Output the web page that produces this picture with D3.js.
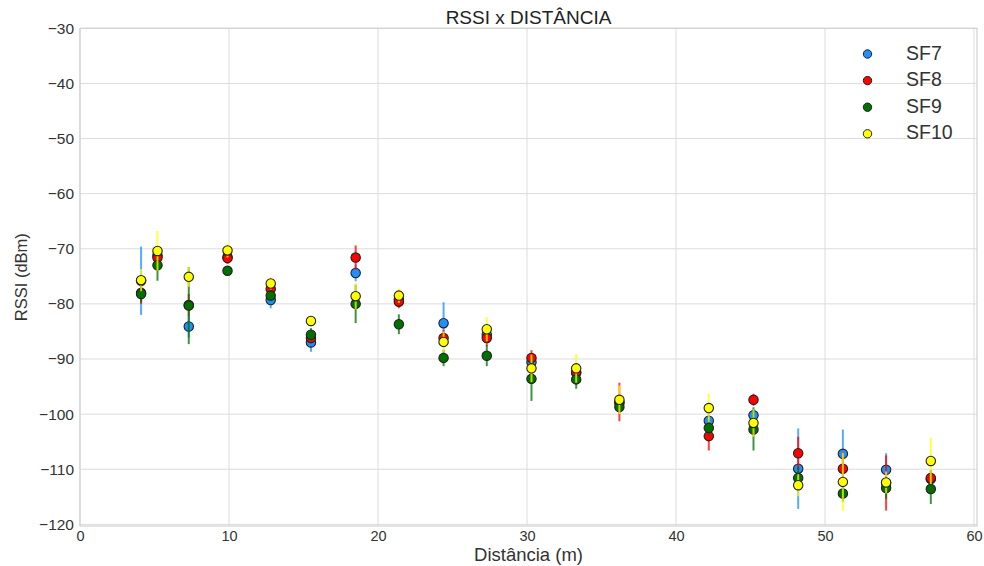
<!DOCTYPE html>
<html>
<head>
<meta charset="utf-8">
<script src="https://cdn.jsdelivr.net/npm/d3@7"></script>
<style>
  html, body { margin: 0; padding: 0; background: #fff; }
  svg { display: block; font-family: "Liberation Sans", Arial, sans-serif; }
</style>
</head>
<body>
<svg id="chart" width="984" height="566"></svg>
<script>
// Distance of each measurement point (m)
const distances = [4.1, 5.2, 7.3, 9.9, 12.8, 15.5, 18.5, 21.4, 24.4, 27.3, 30.3, 33.3, 36.2, 42.2, 45.2, 48.2, 51.2, 54.1, 57.1];

// Mean RSSI (dBm) and spread per spreading factor
const sf7    = [-75.8, -71.2, -84.1, -71.5, -79.3, -87.0, -74.4, -79.2, -83.5, -85.6, -90.6, -92.5, -98.0, -101.2, -100.2, -109.9, -107.2, -110.1, -111.8];
const sf7Err = [6.2, 1.5, 2.0, 1.0, 1.5, 1.7, 1.5, 1.0, 3.8, 1.5, 1.5, 1.5, 1.0, 1.5, 1.5, 7.3, 4.4, 3.0, 1.5];

const sf8    = [-78.0, -71.6, -80.2, -71.7, -77.3, -86.2, -71.6, -79.6, -86.2, -86.2, -89.8, -92.4, -97.8, -104.0, -97.4, -107.1, -109.9, -112.5, -111.6];
const sf8Err = [2.0, 1.5, 2.0, 1.0, 1.0, 1.0, 2.2, 1.2, 1.5, 1.5, 1.4, 1.2, 3.5, 2.6, 1.1, 3.0, 3.0, 5.0, 1.5];

const sf9    = [-78.2, -73.0, -80.3, -74.0, -78.5, -85.6, -80.0, -83.7, -89.8, -89.4, -93.6, -93.7, -98.7, -102.5, -102.8, -111.6, -114.4, -113.4, -113.6];
const sf9Err = [1.5, 2.8, 7.0, 0.8, 1.0, 1.2, 3.5, 1.8, 1.5, 1.9, 4.0, 1.7, 1.0, 1.5, 3.8, 2.0, 1.5, 2.0, 2.7];

const sf10    = [-75.7, -70.4, -75.1, -70.3, -76.3, -83.1, -78.6, -78.5, -86.9, -84.6, -91.7, -91.7, -97.4, -98.9, -101.6, -112.9, -112.3, -112.4, -108.5];
const sf10Err = [2.0, 3.6, 1.8, 1.3, 1.1, 1.0, 2.4, 1.3, 1.9, 2.2, 2.5, 2.6, 2.6, 2.6, 2.5, 2.0, 5.3, 2.0, 4.2];

const seriesNames = ["SF7", "SF8", "SF9", "SF10"];
const seriesColors = ["#1e8fff", "#ff0000", "#007000", "#ffff00"];
const xTicks = [0, 10, 20, 30, 40, 50, 60];
const yTicks = [-120, -110, -100, -90, -80, -70, -60, -50, -40, -30];

const series = [
  { name: seriesNames[0], color: seriesColors[0], values: sf7,  errors: sf7Err },
  { name: seriesNames[1], color: seriesColors[1], values: sf8,  errors: sf8Err },
  { name: seriesNames[2], color: seriesColors[2], values: sf9,  errors: sf9Err },
  { name: seriesNames[3], color: seriesColors[3], values: sf10, errors: sf10Err }
];

const svg = d3.select("#chart");
const plotLeft = 80, plotRight = 977, plotTop = 28.3, plotBottom = 526;

const x = d3.scaleLinear().domain([0, 60.2]).range([plotLeft, plotRight]);
const y = d3.scaleLinear().domain([-120.3, -30]).range([plotBottom, plotTop]);

const fmt = d => (d < 0 ? "\u2212" + Math.abs(d) : String(d));

// Grid
const grid = svg.append("g");
grid.selectAll("line.gx").data(xTicks).join("line")
  .attr("x1", d => x(d)).attr("x2", d => x(d))
  .attr("y1", plotTop).attr("y2", plotBottom)
  .attr("stroke", "#dcdcdc").attr("stroke-width", 1);
grid.selectAll("line.gy").data(yTicks).join("line")
  .attr("x1", plotLeft).attr("x2", plotRight)
  .attr("y1", d => y(d)).attr("y2", d => y(d))
  .attr("stroke", "#dcdcdc").attr("stroke-width", 1);

// Frame
svg.append("rect")
  .attr("x", plotLeft).attr("y", plotTop)
  .attr("width", plotRight - plotLeft).attr("height", plotBottom - plotTop)
  .attr("fill", "none").attr("stroke", "#d0d0d0").attr("stroke-width", 1.2);

// Axes (labels only, whitegrid style)
const xAxis = svg.append("g").attr("transform", `translate(0,${plotBottom})`)
  .call(d3.axisBottom(x).tickValues(xTicks).tickSize(0).tickPadding(5).tickFormat(d3.format("d")));
const yAxis = svg.append("g").attr("transform", `translate(${plotLeft},0)`)
  .call(d3.axisLeft(y).tickValues(yTicks).tickSize(0).tickPadding(6).tickFormat(fmt));
[xAxis, yAxis].forEach(a => {
  a.select(".domain").remove();
  a.selectAll("text").attr("fill", "#333")
    .attr("font-family", "'Liberation Sans', Arial, sans-serif");
});
xAxis.selectAll("text").attr("font-size", 14.5);
yAxis.selectAll("text").attr("font-size", 15.5);

// Error bars and markers, drawn series by series
series.forEach(s => {
  const g = svg.append("g");
  const pts = distances.map((d, i) => ({ d, v: s.values[i], e: s.errors[i] }));
  g.selectAll("line").data(pts).join("line")
    .attr("x1", p => x(p.d)).attr("x2", p => x(p.d))
    .attr("y1", p => y(p.v - p.e)).attr("y2", p => y(p.v + p.e))
    .attr("stroke", s.color).attr("stroke-opacity", 0.75).attr("stroke-width", 2);
  g.selectAll("circle").data(pts).join("circle")
    .attr("cx", p => x(p.d)).attr("cy", p => y(p.v)).attr("r", 4.7)
    .attr("fill", s.color).attr("stroke", "#222").attr("stroke-width", 1.1);
});

// Title and axis labels
svg.append("text").attr("x", (plotLeft + plotRight) / 2).attr("y", 23.5)
  .attr("text-anchor", "middle").attr("font-size", 19).attr("fill", "#222")
  .text("RSSI x DISTÂNCIA");
svg.append("text").attr("x", (plotLeft + plotRight) / 2).attr("y", 561)
  .attr("text-anchor", "middle").attr("font-size", 18.5).attr("fill", "#333")
  .text("Distância (m)");
svg.append("text").attr("transform", `translate(27,${(plotTop + plotBottom) / 2}) rotate(-90)`)
  .attr("text-anchor", "middle").attr("font-size", 16.5).attr("fill", "#333")
  .text("RSSI (dBm)");

// Legend
const legend = svg.append("g");
series.forEach((s, i) => {
  const ly = 54 + i * 26.6;
  legend.append("circle").attr("cx", 867.5).attr("cy", ly).attr("r", 4.2)
    .attr("fill", s.color).attr("stroke", "#222").attr("stroke-width", 1);
  legend.append("text").attr("x", 906).attr("y", ly + 5.5)
    .attr("font-size", 19.5).attr("fill", "#333").text(s.name);
});
</script>
</body>
</html>
